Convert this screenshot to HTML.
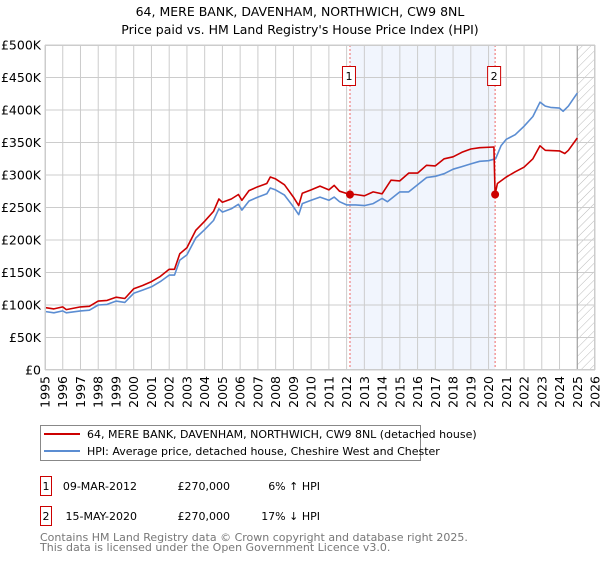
<!DOCTYPE html>
<html><head><meta charset="utf-8"><style>
body{margin:0;background:#fff;font-family:"Liberation Sans","DejaVu Sans",sans-serif;}
svg text{font-family:"DejaVu Sans","Liberation Sans",sans-serif;}
</style></head><body>
<svg id="chart" width="600" height="560" xmlns="http://www.w3.org/2000/svg">
<text x="300" y="16" text-anchor="middle" font-size="12.5">64, MERE BANK, DAVENHAM, NORTHWICH, CW9 8NL</text>
<text x="300" y="34" text-anchor="middle" font-size="12.5">Price paid vs. HM Land Registry's House Price Index (HPI)</text>
<g id="grid"></g><g id="marks"></g><g id="axes"></g>
<g>
<rect x="40.5" y="425.5" width="380" height="35" fill="#fff" stroke="#888"/>
<line x1="44" y1="434" x2="80" y2="434" stroke="#cc0000" stroke-width="2"/>
<text x="87" y="438" font-size="11">64, MERE BANK, DAVENHAM, NORTHWICH, CW9 8NL (detached house)</text>
<line x1="44" y1="451" x2="80" y2="451" stroke="#5b8dd2" stroke-width="2"/>
<text x="87" y="455" font-size="11">HPI: Average price, detached house, Cheshire West and Chester</text>
</g>
<g font-size="11">
<rect x="40.5" y="476.5" width="11" height="19" fill="#fff" stroke="#cc0000"/>
<text x="46" y="490" text-anchor="middle">1</text>
<text x="137" y="490" text-anchor="end">09-MAR-2012</text>
<text x="230" y="490" text-anchor="end">£270,000</text>
<text x="320" y="490" text-anchor="end">6% ↑ HPI</text>
<rect x="40.5" y="506.5" width="11" height="19" fill="#fff" stroke="#cc0000"/>
<text x="46" y="520" text-anchor="middle">2</text>
<text x="137" y="520" text-anchor="end">15-MAY-2020</text>
<text x="230" y="520" text-anchor="end">£270,000</text>
<text x="320" y="520" text-anchor="end">17% ↓ HPI</text>
</g>
<text x="40" y="541" font-size="11" fill="#777">Contains HM Land Registry data © Crown copyright and database right 2025.</text>
<text x="40" y="551" font-size="11" fill="#777">This data is licensed under the Open Government Licence v3.0.</text>
</svg>
<script>
const yearTicks=[1995,1996,1997,1998,1999,2000,2001,2002,2003,2004,2005,2006,2007,2008,2009,2010,2011,2012,2013,2014,2015,2016,2017,2018,2019,2020,2021,2022,2023,2024,2025,2026];
const valueTicks=[0,50,100,150,200,250,300,350,400,450,500];
const valueLabels=["£0","£50K","£100K","£150K","£200K","£250K","£300K","£350K","£400K","£450K","£500K"];
const hpiDates=[1995,1995.5,1996,1996.2,1997,1997.5,1998,1998.5,1999,1999.5,2000,2000.5,2001,2001.5,2002,2002.3,2002.6,2003,2003.5,2004,2004.5,2004.8,2005,2005.5,2005.9,2006.1,2006.5,2007,2007.5,2007.7,2008,2008.5,2009,2009.3,2009.5,2010,2010.5,2011,2011.3,2011.6,2012,2012.5,2013,2013.5,2014,2014.3,2015,2015.5,2016,2016.5,2017,2017.5,2018,2018.5,2019,2019.5,2020,2020.4,2020.7,2021,2021.5,2022,2022.5,2022.9,2023.2,2023.5,2024,2024.2,2024.5,2025];
const hpiValues=[90,88,91,88,91,92,100,101,106,104,118,123,128,136,146,146,169,177,203,216,230,248,243,248,255,246,260,266,271,280,277,269,251,239,256,261,266,261,266,259,254,254,253,256,264,259,274,274,285,296,298,302,309,313,317,321,322,325,345,355,362,375,390,412,406,404,403,398,406,426];
const priceDates=[1995,1995.5,1996,1996.2,1997,1997.5,1998,1998.5,1999,1999.5,2000,2000.5,2001,2001.5,2002,2002.3,2002.6,2003,2003.5,2004,2004.5,2004.8,2005,2005.5,2005.9,2006.1,2006.5,2007,2007.5,2007.7,2008,2008.5,2009,2009.3,2009.5,2010,2010.5,2011,2011.3,2011.6,2012.19,2012.5,2013,2013.5,2014,2014.5,2015,2015.5,2016,2016.5,2017,2017.5,2018,2018.5,2019,2019.5,2020.3,2020.37,2020.5,2021,2021.5,2022,2022.5,2022.9,2023.2,2024,2024.3,2024.5,2025];
const priceValues=[96,94,97,93,97,98,106,107,112,110,125,130,136,144,155,155,179,188,215,229,244,263,258,263,270,261,276,282,287,297,294,285,266,253,272,277,283,277,284,275,270,270,268,274,271,292,291,303,303,315,314,325,328,335,340,342,343,270,287,297,305,312,325,345,338,337,333,338,357];
const sales=[{t:2012.19,v:270,label:"1"},{t:2020.37,v:270,label:"2"}];
const NS="http://www.w3.org/2000/svg";
const X0=45,X1=595,Y0=370,Y1=45;
const xs=t=>X0+(t-1995)/(2026-1995)*(X1-X0);
const ys=v=>Y0-v/500*(Y0-Y1);
function mk(tag,attrs,parent){const e=document.createElementNS(NS,tag);for(const k in attrs)e.setAttribute(k,attrs[k]);parent.appendChild(e);return e;}
const grid=document.getElementById('grid'),marks=document.getElementById('marks'),axes=document.getElementById('axes');
let sh=mk('rect',{x:xs(sales[0].t),y:Y1,width:xs(sales[1].t)-xs(sales[0].t),height:Y0-Y1,fill:'#eef3fc',opacity:0.8},grid);


const defs=mk('defs',{},grid);
const pat=mk('pattern',{id:'hatch',width:6,height:6,patternUnits:'userSpaceOnUse',patternTransform:'rotate(45)'},defs);
mk('line',{x1:0,y1:0,x2:0,y2:6,stroke:'#bbb','stroke-width':1},pat);
let ht=mk('rect',{x:xs(2025),y:Y1,width:X1-xs(2025),height:Y0-Y1,fill:'url(#hatch)'},grid);


yearTicks.forEach(y=>{
 let l=mk('line',{x1:xs(y),x2:xs(y),y1:Y1,y2:Y0,stroke:'#cccccc','stroke-width':1},grid);
 
 
 let tx=mk('text',{x:0,y:0,'font-size':12.5,'text-anchor':'end',transform:`translate(${xs(y)+4.5},376) rotate(-90)`},axes);
 tx.textContent=y;
 
 
});
valueTicks.forEach((v,i)=>{
 let l=mk('line',{x1:X0,x2:X1,y1:ys(v),y2:ys(v),stroke:'#cccccc','stroke-width':1},grid);
 
 
 let tx=mk('text',{x:41,y:ys(v)+4.5,'font-size':12.5,'text-anchor':'end'},axes);
 tx.textContent=valueLabels[i];
 
 
});
let nl=mk('line',{x1:xs(2025),x2:xs(2025),y1:Y1,y2:Y0,stroke:'#999','stroke-width':1},grid);


sales.forEach(s=>{
 let l=mk('line',{x1:xs(s.t),x2:xs(s.t),y1:Y1,y2:Y0,stroke:'#ee6666','stroke-width':1,'stroke-dasharray':'2,2'},marks);
 
 
});
function path(ds,vs,color,name){
 let d=ds.map((t,i)=>(i?'L':'M')+xs(t).toFixed(1)+','+ys(vs[i]).toFixed(1)).join('');
 let p=mk('path',{d:d,fill:'none',stroke:color,'stroke-width':1.6,'stroke-linejoin':'round'},marks);
 
 
}
path(hpiDates,hpiValues,'#5b8dd2','hpi-line');
path(priceDates,priceValues,'#cc0000','price-paid-line');
sales.forEach(s=>{
 let c=mk('circle',{cx:xs(s.t),cy:ys(s.v),r:4,fill:'#cc0000'},marks);
 
 
 let b=mk('rect',{x:xs(s.t)-7.5,y:66.5,width:13,height:19,fill:'#fff',stroke:'#cc0000'},marks);
 
 
 let t=mk('text',{x:xs(s.t)-1,y:80,'font-size':11,'text-anchor':'middle'},marks);
 t.textContent=s.label;
 
 
});
let fr=mk('rect',{x:X0+0.5,y:Y1+0.5,width:X1-X0-1,height:Y0-Y1-1,fill:'none',stroke:'#cccccc'},axes);


</script>
</body></html>
